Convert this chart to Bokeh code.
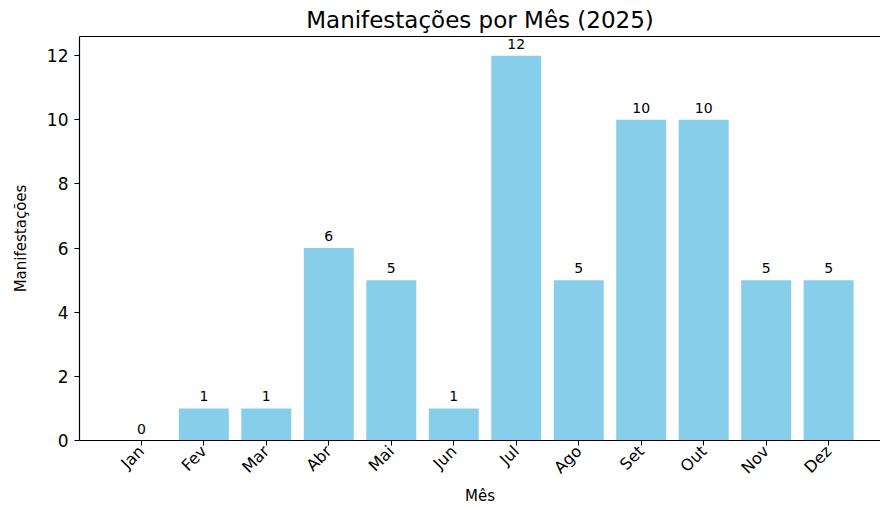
from bokeh.plotting import figure
from bokeh.models import Range1d, FixedTicker, LinearAxis, ColumnDataSource, LabelSet
from bokeh.core.properties import value
from bokeh.embed import file_html
from bokeh.resources import INLINE
import math

months = ["Jan", "Fev", "Mar", "Abr", "Mai", "Jun", "Jul", "Ago", "Set", "Out", "Nov", "Dez"]
counts = [0, 1, 1, 6, 5, 1, 12, 5, 10, 10, 5, 5]
y_ticks = [0, 2, 4, 6, 8, 10, 12]

FONT = "DejaVu Sans"
xs = list(range(len(months)))
src = ColumnDataSource(dict(x=xs, top=counts, label=[str(c) for c in counts]))

p = figure(width=880, height=508, output_backend="svg", toolbar_location=None,
           x_range=Range1d(-0.99, 11.83), y_range=Range1d(0, 12.6),
           title="Manifestações por Mês (2025)",
           min_border_left=79, min_border_right=0, min_border_top=0, min_border_bottom=0)
p.outline_line_color = None
p.grid.visible = False
p.background_fill_color = "white"
p.border_fill_color = "white"

p.title.align = "center"
p.title.text_font = FONT
p.title.text_font_size = "23px"
p.title.text_font_style = "normal"
p.title.text_color = "black"
p.title.standoff = 8

p.vbar(x="x", top="top", width=0.8, bottom=0, source=src, fill_color="#87CEEB", line_color=None)

labels = LabelSet(x="x", y="top", text="label", source=src, text_align="center",
                  text_baseline="bottom", y_offset=7, text_font=value(FONT),
                  text_font_size="14px", text_color="black")
p.add_layout(labels)

xa = p.xaxis[0]
xa.ticker = FixedTicker(ticks=xs)
xa.major_label_overrides = {i: m for i, m in enumerate(months)}
xa.major_label_orientation = math.pi / 4
xa.axis_label = "Mês"
ya = p.yaxis[0]
ya.ticker = FixedTicker(ticks=y_ticks)
ya.axis_label = "Manifestações"

for ax in (xa, ya):
    ax.minor_tick_line_color = None
    ax.major_tick_in = 0
    ax.major_tick_out = 5
    ax.axis_line_color = "black"
    ax.axis_line_width = 1.2
    ax.major_tick_line_color = "black"
    ax.major_label_text_font = FONT
    ax.major_label_text_font_size = "17px"
    ax.major_label_text_color = "black"
    ax.axis_label_text_font = FONT
    ax.axis_label_text_font_size = "15px"
    ax.axis_label_text_font_style = "normal"
    ax.axis_label_text_color = "black"
    ax.major_label_standoff = 6
xa.major_label_standoff = 3
xa.major_label_text_font_size = "16px"
xa.axis_label_standoff = 0
ya.axis_label_standoff = 14

top = LinearAxis(axis_line_color="black", axis_line_width=1.2,
                 major_tick_line_color=None, minor_tick_line_color=None,
                 major_label_text_font_size="0px", major_label_text_color=None)
top.ticker = FixedTicker(ticks=[])
p.add_layout(top, "above")

open("out.html", "w").write(file_html(p, INLINE))
